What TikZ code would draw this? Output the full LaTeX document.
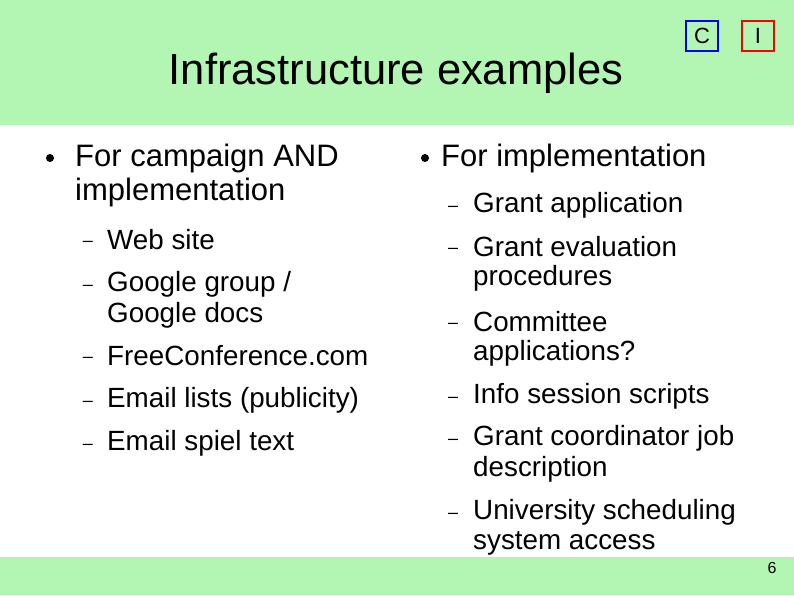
\documentclass[tikz,border=0pt]{standalone}
\usepackage{fontspec}
\setmainfont{Liberation Sans}
\begin{document}
\begin{tikzpicture}[x=1pt,y=-1pt,
  big/.style={anchor=west,inner sep=0pt,font=\fontsize{31}{35}\selectfont},
  sub/.style={anchor=west,inner sep=0pt,font=\fontsize{27.8}{31}\selectfont},
  dashmark/.style={anchor=center,inner sep=0pt,font=\fontsize{18}{20}\selectfont},
  tag/.style={draw,line width=2.5pt,minimum width=32pt,minimum height=30pt,inner sep=0pt,font=\fontsize{22}{24}\selectfont}]
\definecolor{band}{HTML}{B3F5B3}
\useasboundingbox (0,0) rectangle (794,595);
\fill[band] (0,0) rectangle (794,125);
\fill[band] (0,557) rectangle (794,595);
\node[inner sep=0pt,font=\fontsize{43.5}{46}\selectfont] (title) at (396,73) {Infrastructure examples};
\node[tag,draw=blue] (c) at (702,36) {C};
\node[tag,draw=red] (i) at (758,36) {I};
\node[inner sep=0pt,font=\fontsize{16}{18}\selectfont] (pg) at (772,568) {6};
% left
\fill (50,158) circle (4pt);
\node[big] (l1) at (75,158) {For campaign AND};
\node[big] (l2) at (75,192) {implementation};
\node[sub] (ls1) at (107,240) {Web site};
\node[sub] (ls2) at (107,284) {Google group /};
\node[sub] (ls3) at (107,315) {Google docs};
\node[sub] (ls4) at (107,356) {FreeConference.com};
\node[sub] (ls5) at (107,400) {Email lists (publicity)};
\node[sub] (ls6) at (107,443) {Email spiel text};
\foreach \y [count=\k] in {240,284,356,400,443}{\node[dashmark] (ld\k) at (88,\y+4) {–};}
% right
\fill (425,158) circle (4pt);
\node[big] (r1) at (441,158) {For implementation};
\foreach \y/\t [count=\k] in {205/Grant application,247/Grant evaluation,278/procedures,322/Committee,353/applications?,396/Info session scripts,438/Grant coordinator job,469/description,512/University scheduling,543/system access}{
  \node[sub] (rs\k) at (473,\y) {\t};}
\foreach \y [count=\k] in {205,247,322,396,438,512}{\node[dashmark] (rd\k) at (453,\y+4) {–};}
\end{tikzpicture}
\end{document}
